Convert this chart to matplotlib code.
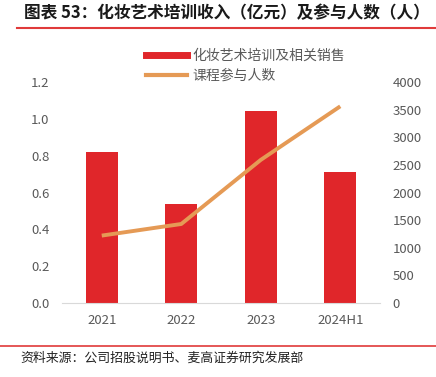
import matplotlib.pyplot as plt
from matplotlib.lines import Line2D

plt.rcParams['font.family'] = ['Noto Sans CJK SC', 'DejaVu Sans']

# Data
years = ['2021', '2022', '2023', '2024H1']
revenue = [0.82, 0.54, 1.04, 0.71]          # 亿元
participants = [1220, 1430, 2590, 3560]     # 人

bar_color = '#E0262A'
line_color = '#E59A55'
tick_color = '#595959'

fig = plt.figure(figsize=(4.36, 3.77), dpi=100)
ax = fig.add_axes([62 / 436, 1 - 303 / 377, 318 / 436, 221 / 377])
x = range(len(years))
ax.bar(x, revenue, width=0.4, color=bar_color, zorder=2)
ax.set_ylim(0, 1.2)
ax.set_xlim(-0.5, len(years) - 0.5)
ax.set_yticks([0, 0.2, 0.4, 0.6, 0.8, 1.0, 1.2])
ax.set_yticklabels(['0.0', '0.2', '0.4', '0.6', '0.8', '1.0', '1.2'])
ax.set_xticks(list(x))
ax.set_xticklabels(years)
for s in ['top', 'right', 'left']:
    ax.spines[s].set_visible(False)
ax.spines['bottom'].set_color('#D9D9D9')
ax.tick_params(axis='both', length=0, colors=tick_color, labelsize=9.5)
ax.tick_params(axis='y', pad=9)
ax.tick_params(axis='x', pad=8)

ax2 = ax.twinx()
ax2.plot(list(x), participants, color=line_color, lw=2.8, solid_capstyle='butt', zorder=3)
ax2.set_ylim(0, 4000)
ax2.set_yticks(range(0, 4001, 500))
for s in ['top', 'right', 'left', 'bottom']:
    ax2.spines[s].set_visible(False)
ax2.tick_params(axis='y', length=0, colors=tick_color, labelsize=9.5, pad=9)

handles = [Line2D([0], [0], color=bar_color, lw=5),
           Line2D([0], [0], color=line_color, lw=3)]
fig.legend(handles, ['化妆艺术培训及相关销售', '课程参与人数'],
           loc='upper left', bbox_to_anchor=(133 / 436, 1 - 36 / 377),
           frameon=False, fontsize=10, labelcolor=tick_color,
           handlelength=3.0, handletextpad=0.4, labelspacing=0.45)

# Title and footer
fig.text(24 / 436, 1 - 13 / 377, '图表 53：化妆艺术培训收入（亿元）及参与人数（人）',
         fontsize=12, fontweight='bold', va='center', color='#1A1A1A')
fig.add_artist(Line2D([17 / 436, 1], [1 - 28 / 377] * 2, color='#E03A3A', lw=1.5))
fig.add_artist(Line2D([0, 1], [1 - 346 / 377] * 2, color='#E03A3A', lw=1.2))
fig.text(20 / 436, 1 - 358 / 377, '资料来源：公司招股说明书、麦高证券研究发展部',
         fontsize=9.3, va='center', color='#222222')

fig.savefig('out.png', dpi=100)
